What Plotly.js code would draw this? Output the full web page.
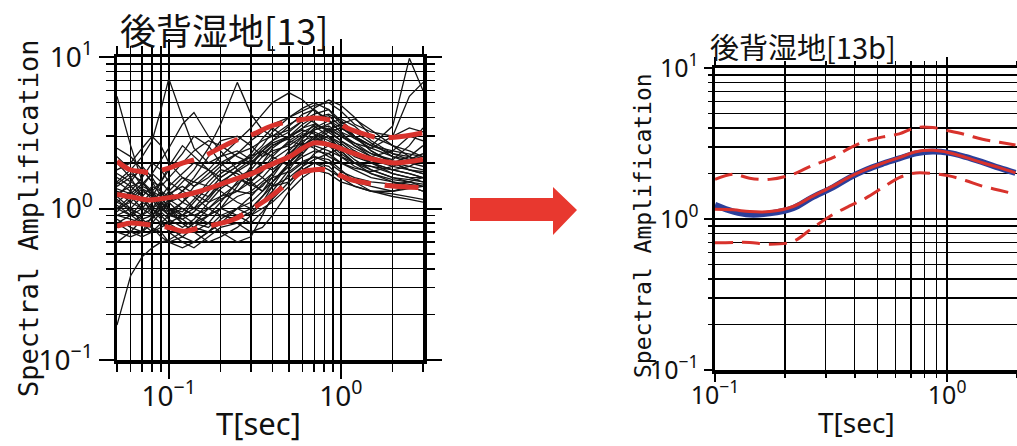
<!DOCTYPE html>
<html><head><meta charset="utf-8">
<script src="https://cdn.plot.ly/plotly-3.0.1.min.js"></script>
<style>html,body{margin:0;padding:0;background:#fff}#chart{width:1017px;height:446px}</style>
</head><body><div id="chart"></div>
<script>
// ---- tick labels ----
const decadeVals = [0.1, 1, 10];
const decadeText = ['10<sup>−1</sup>', '10<sup>0</sup>', '10<sup>1</sup>'];

// ---- left panel: individual records (black) ----
const periodObs = [0.05,0.06,0.07,0.08,0.09,0.1,0.12,0.14,0.17,0.2,0.25,0.3,0.35,0.4,0.5,0.6,0.7,0.85,1.0,1.2,1.5,2.0,2.5,3.0];
const records = [
  [0.17,0.36,0.48,0.55,0.6,0.62,0.7,0.8,0.75,0.9,1.0,1.1,1.3,1.5,1.9,2.2,2.4,2.3,2.0,1.8,1.6,1.5,1.4,1.3],
  [5.5,2.6,1.5,1.2,1.0,0.9,1.1,1.3,1.2,1.4,1.6,1.8,2.2,2.6,3.0,3.3,3.1,2.8,2.5,2.3,2.0,1.8,1.7,1.6],
  [1.5,1.8,2.2,2.8,4.5,7.2,4.0,2.5,2.0,2.2,2.4,2.1,2.5,2.8,3.5,4.2,4.5,3.8,3.2,2.9,2.6,2.3,2.2,2.0],
  [1.2,1.0,0.9,1.1,1.3,1.2,1.5,1.8,2.5,3.6,6.8,4.2,3.3,3.0,3.6,4.0,3.7,3.2,2.8,2.5,2.2,2.0,1.9,1.8],
  [2.0,1.6,1.2,0.9,0.8,0.75,0.65,0.6,0.7,0.85,1.0,0.9,1.1,1.4,2.0,2.6,3.0,3.4,3.0,2.6,2.2,2.4,3.0,2.8],
  [1.0,1.1,1.3,1.2,1.0,0.95,1.1,1.4,1.7,2.0,2.3,2.5,2.8,3.0,3.3,3.8,4.2,4.5,3.8,3.0,2.6,3.5,9.8,6.0],
  [1.3,1.2,1.0,1.0,1.1,1.3,1.6,1.5,1.4,1.7,2.0,2.2,2.4,2.7,3.0,3.4,3.6,3.3,3.0,2.7,2.5,3.0,5.5,6.8],
  [0.8,0.7,0.65,0.7,0.8,0.9,1.0,0.9,0.8,0.7,0.6,0.65,0.9,1.2,1.7,2.0,2.2,2.1,1.8,1.5,1.3,1.2,1.15,1.1],
  [1.1,1.3,1.6,2.0,1.8,1.5,1.3,1.6,2.2,2.8,3.0,2.6,2.2,2.4,2.6,3.0,3.3,3.6,3.9,3.5,2.8,2.3,2.1,2.0],
  [1.6,1.4,1.2,1.0,0.9,0.8,0.7,0.8,1.0,1.2,1.3,1.5,1.8,2.2,2.8,3.2,3.5,3.0,2.4,2.0,1.8,1.6,1.5,1.4],
  [0.9,0.85,0.8,0.75,0.7,0.6,0.55,0.6,0.7,0.8,0.9,1.0,1.2,1.4,1.6,1.9,2.1,2.3,2.5,2.4,2.0,1.7,1.6,1.5],
  [1.4,1.6,1.8,1.5,1.2,1.0,0.9,1.0,1.3,1.6,1.9,2.2,2.6,3.2,4.0,4.6,5.0,4.5,3.6,3.0,2.4,2.0,1.8,1.7],
  [2.5,2.2,1.8,1.5,1.4,1.6,2.0,2.4,2.8,2.6,2.2,2.0,2.4,2.8,3.2,3.8,4.6,5.2,4.8,4.0,3.0,2.6,2.4,2.2],
  [0.75,0.8,0.9,1.0,0.85,0.7,0.6,0.55,0.65,0.75,0.8,0.7,0.75,0.9,1.3,1.6,1.8,1.7,1.5,1.4,1.3,1.25,1.2,1.15],
  [1.2,1.5,1.9,1.6,1.3,1.1,1.2,1.0,0.9,1.0,1.4,1.9,2.4,2.2,1.9,2.3,2.8,3.0,2.7,2.3,2.1,2.0,2.2,2.6],
  [1.0,0.9,1.0,1.2,1.5,1.8,2.3,3.0,2.6,2.0,1.6,1.4,1.6,1.9,2.2,2.6,2.9,2.7,2.3,2.0,1.9,1.8,1.7,1.6],
  [1.3,1.1,1.0,0.9,1.0,1.1,1.3,1.5,1.8,2.2,2.8,3.4,4.2,5.0,5.8,5.2,4.4,3.8,3.4,3.0,2.6,2.4,2.3,2.2],
  [0.9,1.0,1.2,1.4,1.3,1.1,0.9,0.8,0.9,1.1,1.5,1.8,1.6,1.4,1.5,1.8,2.0,1.8,1.6,1.5,1.4,1.3,1.35,1.4],
  [1.8,2.0,2.5,3.0,2.6,2.0,1.6,1.4,1.6,1.9,2.3,2.8,3.2,3.6,4.0,4.4,4.8,5.0,4.4,3.6,3.2,3.0,3.4,3.2],
  [1.1,1.0,0.8,0.7,0.75,0.8,0.9,1.1,1.4,1.3,1.1,1.0,1.2,1.5,2.0,2.5,2.6,2.4,2.2,2.0,1.9,1.7,1.6,1.6],
  [1.5,1.3,1.1,1.0,1.2,1.4,1.7,2.0,1.8,1.5,1.3,1.6,2.0,2.5,3.0,3.6,4.0,4.2,3.8,3.2,2.7,2.2,2.0,1.9],
  [0.85,0.75,0.7,0.8,0.95,1.1,1.3,1.2,1.0,0.9,0.85,0.95,1.1,1.3,1.8,2.4,2.8,3.2,3.4,3.0,2.4,2.0,1.8,1.7],
  [1.25,1.4,1.5,1.3,1.1,0.95,0.8,0.7,0.8,1.0,1.2,1.3,1.5,1.7,2.2,2.9,3.4,3.8,3.2,2.6,2.3,2.1,2.6,3.4],
  [2.2,1.8,1.4,1.3,1.5,1.9,2.6,2.2,1.8,1.6,1.9,2.3,2.9,3.4,2.8,2.6,2.9,3.3,3.6,3.9,3.3,2.6,2.2,2.0],
  [0.7,0.65,0.7,0.9,1.1,1.0,0.8,0.7,0.6,0.65,0.75,0.9,1.0,1.1,1.4,1.8,2.0,1.9,1.6,1.4,1.3,1.3,1.4,1.3],
  [1.0,1.2,1.4,1.7,2.1,2.5,3.6,4.3,3.0,2.4,1.8,1.5,1.3,1.5,2.0,2.4,2.7,3.0,2.6,2.2,2.0,1.8,1.9,2.1],
  [1.15,0.95,0.85,0.9,1.05,1.25,1.4,1.25,1.1,1.2,1.45,1.7,2.0,2.3,2.7,3.1,3.2,2.9,2.5,2.1,1.8,1.6,1.55,1.5],
  [0.95,1.15,1.35,1.15,0.95,0.85,0.75,0.85,1.1,1.35,1.6,1.45,1.3,1.6,2.3,2.8,3.0,2.6,2.2,1.9,1.7,1.55,1.5,1.45],
  [1.7,1.5,1.35,1.25,1.1,1.0,0.95,1.15,1.5,1.8,1.7,1.5,1.75,2.1,2.5,2.7,2.5,2.2,2.0,1.85,1.75,1.9,2.1,2.3],
  [0.6,0.7,0.85,0.75,0.65,0.6,0.65,0.75,0.9,1.0,0.9,0.8,0.95,1.15,1.5,1.9,2.3,2.6,2.4,2.0,1.7,1.5,1.45,1.4],
  [1.35,1.25,1.45,1.7,1.5,1.3,1.1,1.0,1.15,1.45,1.8,2.1,1.9,1.8,2.2,2.7,3.3,3.5,3.1,2.7,2.3,2.05,2.0,2.05],
  [1.05,0.9,0.8,0.85,1.0,1.15,1.0,0.9,1.0,1.15,1.3,1.25,1.4,1.7,2.4,3.0,3.6,3.3,2.8,2.4,2.1,1.9,1.8,1.75],
  [1.45,1.7,1.5,1.25,1.05,0.9,0.85,0.95,1.2,1.5,1.75,2.0,2.3,2.6,2.9,3.4,3.9,4.1,3.5,2.9,2.5,2.2,2.1,2.2],
  [0.8,0.9,1.1,1.3,1.2,1.0,0.85,0.75,0.7,0.8,1.0,1.2,1.45,1.6,1.75,2.05,2.2,2.0,1.75,1.6,1.5,1.45,1.5,1.6]
];

// ---- left panel: mean and ±sigma (red) ----
const periodStat = [0.05,0.059,0.071,0.077,0.1,0.121,0.152,0.238,0.311,0.372,0.427,0.51,0.583,0.70,0.80,0.914,1.14,1.43,1.64,2.05,3.0];
const meanLeft  = [1.24,1.20,1.15,1.14,1.18,1.22,1.30,1.55,1.72,1.90,2.03,2.21,2.45,2.71,2.68,2.58,2.35,2.16,2.08,2.00,2.11];
const upperLeft = [2.05,1.81,1.75,1.72,1.85,2.00,2.16,2.78,3.10,3.41,3.60,3.77,3.85,3.96,3.90,3.77,3.32,3.05,2.93,2.95,3.16];
const lowerLeft = [0.764,0.80,0.79,0.78,0.75,0.708,0.746,0.846,1.01,1.15,1.30,1.52,1.72,1.80,1.81,1.72,1.55,1.47,1.44,1.40,1.37];

// ---- right panel (13b) ----
const periodFit = [0.1,0.12,0.141,0.172,0.217,0.26,0.322,0.38,0.448,0.53,0.622,0.734,0.866,1.02,1.2,1.42,1.68,1.97];
const blueFit   = [1.24,1.12,1.07,1.09,1.18,1.38,1.62,1.88,2.12,2.33,2.52,2.72,2.80,2.74,2.58,2.38,2.18,2.02];
const redFit    = [1.16,1.15,1.12,1.12,1.21,1.40,1.65,1.90,2.13,2.35,2.55,2.79,2.85,2.75,2.56,2.36,2.19,2.02];
const upperFit  = [1.83,1.98,1.86,1.83,1.98,2.25,2.55,2.95,3.28,3.50,3.66,4.03,4.03,3.83,3.62,3.37,3.22,3.09];
const lowerFit  = [0.696,0.70,0.70,0.68,0.71,0.86,1.07,1.22,1.38,1.62,1.88,2.02,2.00,1.93,1.80,1.65,1.55,1.46];

const RED = '#d8322c', BLUE = '#2b3f9a';
const traces = [];
records.forEach(r => traces.push({x: periodObs, y: r, xaxis:'x', yaxis:'y', mode:'lines',
  line:{color:'#151515', width:1.3}, hoverinfo:'skip'}));
traces.push({x: periodStat, y: upperLeft, xaxis:'x', yaxis:'y', mode:'lines', line:{color:RED, width:5, dash:'34px,14px', shape:'spline'}});
traces.push({x: periodStat, y: lowerLeft, xaxis:'x', yaxis:'y', mode:'lines', line:{color:RED, width:5, dash:'34px,14px', shape:'spline'}});
traces.push({x: periodStat, y: meanLeft, xaxis:'x', yaxis:'y', mode:'lines', line:{color:RED, width:5, shape:'spline'}});

traces.push({x: periodFit, y: blueFit, xaxis:'x2', yaxis:'y2', mode:'lines', line:{color:BLUE, width:6, shape:'spline'}});
traces.push({x: periodFit, y: redFit, xaxis:'x2', yaxis:'y2', mode:'lines', line:{color:RED, width:3, shape:'spline'}});
traces.push({x: periodFit, y: upperFit, xaxis:'x2', yaxis:'y2', mode:'lines', line:{color:RED, width:3, dash:'18px,9px', shape:'spline'}});
traces.push({x: periodFit, y: lowerFit, xaxis:'x2', yaxis:'y2', mode:'lines', line:{color:RED, width:3, dash:'18px,9px', shape:'spline'}});

function axis(extra, fsize, tl) {
  return Object.assign({
    type:'log', showline:true, linecolor:'black', linewidth:3.5, mirror:'allticks',
    ticks:'outside', ticklen:tl, tickwidth:2, tickcolor:'black',
    showgrid:true, gridcolor:'black', gridwidth:1.8, zeroline:false,
    tickmode:'array', tickvals:decadeVals, ticktext:decadeText,
    tickfont:{family:'Noto Sans, sans-serif', size:fsize, color:'#111'},
    minor:{dtick:'D1', showgrid:true, gridcolor:'black', gridwidth:1.4, ticks:'outside', ticklen:Math.round(tl/2), tickwidth:1.5, tickcolor:'black'},
    fixedrange:true
  }, extra);
}

const W = 1017, H = 446;
const px = v => v / W, py = v => 1 - v / H;
const ann = (text, x, y, size, family, angle) => ({text, xref:'paper', yref:'paper', x:px(x), y:py(y),
  xanchor:'center', yanchor:'middle', showarrow:false, textangle:angle||0,
  font:{family, size, color:'#111'}});

const layout = {
  width:W, height:H, margin:{l:0,r:0,t:0,b:0}, paper_bgcolor:'white', plot_bgcolor:'white', showlegend:false,
  xaxis:  axis({domain:[px(117), px(423)], range:[Math.log10(0.05), Math.log10(3)], anchor:'y', ticklabelstandoff:-6}, 28, 15),
  yaxis:  axis({domain:[1-360/H, 1-57/H], range:[-1, 1], anchor:'x'}, 28, 15),
  xaxis2: axis({domain:[px(715), 1], range:[-1, Math.log10(2)], anchor:'y2', ticklabelstandoff:-8}, 25, 8),
  yaxis2: axis({domain:[1-370/H, 1-68/H], range:[-1, 1], anchor:'x2'}, 25, 8),
  annotations:[
    ann('後背湿地[13]', 224, 29, 36, 'Noto Sans CJK JP'),
    ann('後背湿地[13b]', 803, 46, 29, 'Noto Sans CJK JP'),
    ann('Spectral Amplification', 28, 218, 27, 'DejaVu Sans Mono', -90),
    ann('Spectral Amplification', 643, 226, 23, 'DejaVu Sans Mono', -90),
    ann('T[sec]', 258, 423, 31, 'Noto Sans, sans-serif'),
    ann('T[sec]', 856, 422, 28, 'Noto Sans, sans-serif')
  ],
  shapes:[{type:'path', xref:'paper', yref:'paper', fillcolor:'#e8382f', line:{width:0},
    path:`M ${px(470)} ${py(198)} L ${px(553)} ${py(198)} L ${px(553)} ${py(187)} L ${px(577)} ${py(210)} L ${px(553)} ${py(235)} L ${px(553)} ${py(221)} L ${px(470)} ${py(221)} Z`}]
};

Plotly.newPlot('chart', traces, layout, {displayModeBar:false, staticPlot:true});
</script></body></html>
